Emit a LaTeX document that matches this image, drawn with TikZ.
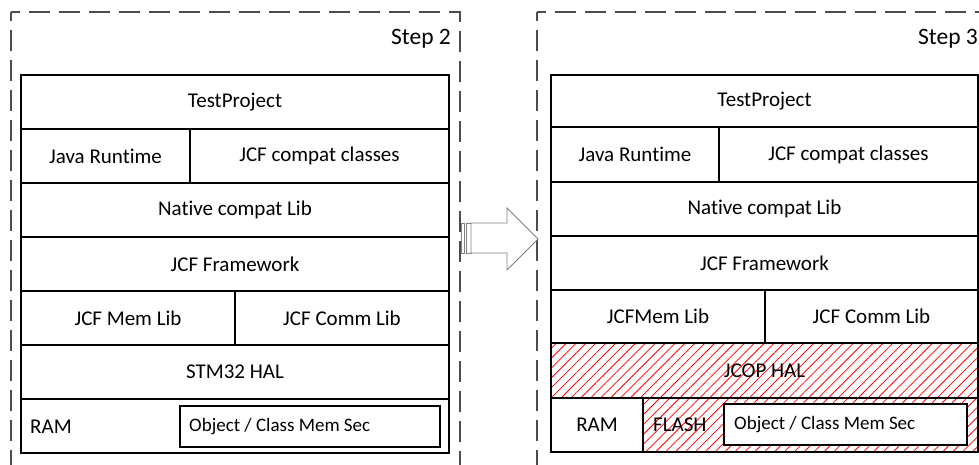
\documentclass[tikz,border=0pt]{standalone}
\usepackage{fontspec}
\setmainfont{Carlito}[Ligatures=NoCommon]
\usetikzlibrary{patterns.meta}
\tikzset{
  cell/.style={draw=black,line width=1.1pt,inner sep=0pt,outer sep=0pt,font=\fontsize{21}{24}\selectfont},
  small/.style={inner sep=0pt,font=\fontsize{19}{22}\selectfont},
  lbl/.style={inner sep=0pt,font=\fontsize{21}{24}\selectfont},
  steplbl/.style={inner sep=0pt,font=\fontsize{23.5}{27}\selectfont},
  hatch/.style={pattern={Lines[angle=45,distance=7pt,line width=0.8pt]},pattern color=red},
  dashbox/.style={draw=black!70,line width=1.1pt,dash pattern=on 21pt off 9pt,dash phase=12pt},
  bigarrow/.style={draw=black!50,line width=0.8pt,fill=white}
}
\newcommand\mkcell[7][]{\node[cell,#1,minimum width={#5pt-#3pt},minimum height={#6pt-#4pt}] (#2) at ({(#3+#5)/2},{(#4+#6)/2}) {#7};}
\begin{document}
\begin{tikzpicture}[x=1pt,y=-1pt]
\useasboundingbox (0,0) rectangle (979,464);
\clip (0,0) rectangle (979,464);
\fill[white] (0,0) rectangle (979,464);
% dashed frames
\draw[dashbox] (11,12) -- (460,12) -- (460,490);
\draw[dashbox] (11,12) -- (11,490);
\draw[dashbox] (537,12) -- (1010,12);
\draw[dashbox] (537,12) -- (537,490);
\node[steplbl,anchor=east] (s2) at (451,39) {Step 2};
\node[steplbl,anchor=east] (s3) at (978,39) {Step 3};
% left stack
\mkcell{lTP}{21}{75}{449}{129}{TestProject}
\mkcell{lJR}{21}{129}{190}{183}{Java Runtime}
\mkcell{lJC}{190}{129}{449}{183}{JCF compat classes}
\mkcell{lNC}{21}{183}{449}{237}{Native compat Lib}
\mkcell{lFW}{21}{237}{449}{291}{JCF Framework}
\mkcell{lML}{21}{291}{235}{345}{JCF Mem Lib}
\mkcell{lCL}{235}{291}{449}{345}{JCF Comm Lib}
\mkcell{lHAL}{21}{345}{449}{399}{STM32 HAL}
\mkcell{lRAM}{21}{399}{449}{453}{}
\node[lbl,anchor=west] (lRAMt) at (30,427) {RAM};
\mkcell{lOBJ}{180}{406}{440}{447}{}
\node[small,anchor=west] (lOBJt) at (189,427) {Object / Class Mem Sec};
% right stack
\mkcell{rTP}{551}{75}{978}{127}{TestProject}
\mkcell{rJR}{551}{127}{719}{182}{Java Runtime}
\mkcell{rJC}{719}{127}{978}{182}{JCF compat classes}
\mkcell{rNC}{551}{182}{978}{236}{Native compat Lib}
\mkcell{rFW}{551}{236}{978}{290}{JCF Framework}
\mkcell{rML}{551}{290}{765}{343}{JCFMem Lib}
\mkcell{rCL}{765}{290}{978}{343}{JCF Comm Lib}
\mkcell[hatch]{rHAL}{551}{343}{978}{398}{JCOP HAL}
\mkcell{rRAM}{551}{398}{643}{452}{RAM}
\mkcell[hatch]{rFL}{643}{398}{978}{452}{}
\node[lbl,anchor=west] (rFLt) at (653,425) {FLASH};
\mkcell[fill=white]{rOBJ}{724}{404}{967}{445}{}
\node[small,anchor=west] (rOBJt) at (734,425) {Object / Class Mem Sec};
% striped arrow
\draw[bigarrow] (461,223) rectangle (464,253);
\draw[bigarrow] (466,223) rectangle (471,253);
\draw[bigarrow] (471,223) -- (507,223) -- (507,208) -- (538,239) -- (507,270) -- (507,253) -- (471,253) -- cycle;
\end{tikzpicture}
\end{document}
